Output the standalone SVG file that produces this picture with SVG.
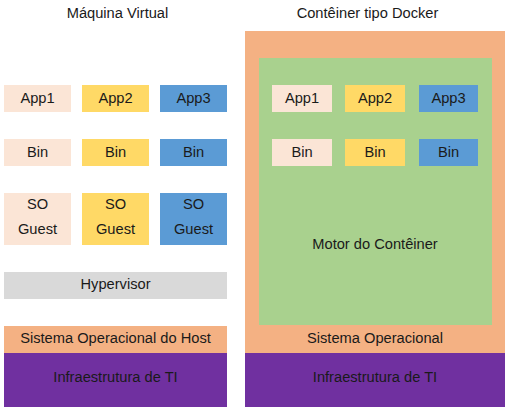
<svg xmlns="http://www.w3.org/2000/svg" width="507" height="409" viewBox="0 0 507 409">
<style>
text{font-family:"Liberation Sans",Arial,sans-serif;font-size:14.67px;fill:#1a1a1a;text-anchor:middle}
.p{fill:#FBE5D6}.y{fill:#FFD966}.b{fill:#5B9BD5}.g{fill:#D9D9D9}.o{fill:#F4B183}.v{fill:#7030A0}.gr{fill:#A9D18E}
</style>
<rect width="507" height="409" fill="#fff"/>
<g id="titulo-vm"><text x="117.5" y="17.5">Máquina Virtual</text></g>
<g id="titulo-docker"><text x="367.5" y="17.5">Contêiner tipo Docker</text></g>
<g id="vm-app1"><rect class="p" x="4" y="85" width="67" height="27"/><text x="37.5" y="102.5">App1</text></g>
<g id="vm-app2"><rect class="y" x="82" y="85" width="67" height="27"/><text x="115.5" y="102.5">App2</text></g>
<g id="vm-app3"><rect class="b" x="160" y="85" width="67" height="27"/><text x="193.5" y="102.5">App3</text></g>
<g id="vm-bin1"><rect class="p" x="4" y="139" width="67" height="27"/><text x="37.5" y="156.5">Bin</text></g>
<g id="vm-bin2"><rect class="y" x="82" y="139" width="67" height="27"/><text x="115.5" y="156.5">Bin</text></g>
<g id="vm-bin3"><rect class="b" x="160" y="139" width="67" height="27"/><text x="193.5" y="156.5">Bin</text></g>
<g id="vm-so1"><rect class="p" x="4" y="193" width="67" height="52"/><text x="37.5" y="208.5">SO</text><text x="37.5" y="233.5">Guest</text></g>
<g id="vm-so2"><rect class="y" x="82" y="193" width="67" height="52"/><text x="115.5" y="208.5">SO</text><text x="115.5" y="233.5">Guest</text></g>
<g id="vm-so3"><rect class="b" x="160" y="193" width="67" height="52"/><text x="193.5" y="208.5">SO</text><text x="193.5" y="233.5">Guest</text></g>
<g id="hypervisor"><rect class="g" x="4" y="272" width="223" height="27"/><text x="115.5" y="288.5">Hypervisor</text></g>
<g id="so-host"><rect class="o" x="4" y="326" width="223" height="27"/><text x="115.5" y="342.5">Sistema Operacional do Host</text></g>
<g id="infra-vm"><rect class="v" x="4" y="353" width="223" height="54"/><text x="115.5" y="382">Infraestrutura de TI</text></g>
<g id="so-docker"><rect class="o" x="245" y="31" width="260" height="322"/><text x="375" y="342.5">Sistema Operacional</text></g>
<g id="motor"><rect class="gr" x="259" y="58" width="233" height="267"/><text x="375" y="249">Motor do Contêiner</text></g>
<g id="dk-app1"><rect class="p" x="272" y="85" width="60" height="27"/><text x="302" y="102.5">App1</text></g>
<g id="dk-app2"><rect class="y" x="345" y="85" width="60" height="27"/><text x="375" y="102.5">App2</text></g>
<g id="dk-app3"><rect class="b" x="419" y="85" width="59" height="27"/><text x="448.5" y="102.5">App3</text></g>
<g id="dk-bin1"><rect class="p" x="272" y="139" width="60" height="27"/><text x="302" y="156.5">Bin</text></g>
<g id="dk-bin2"><rect class="y" x="345" y="139" width="60" height="27"/><text x="375" y="156.5">Bin</text></g>
<g id="dk-bin3"><rect class="b" x="419" y="139" width="59" height="27"/><text x="448.5" y="156.5">Bin</text></g>
<g id="infra-docker"><rect class="v" x="245" y="353" width="260" height="54"/><text x="375" y="382">Infraestrutura de TI</text></g>
<g id="connectors"></g>
</svg>
